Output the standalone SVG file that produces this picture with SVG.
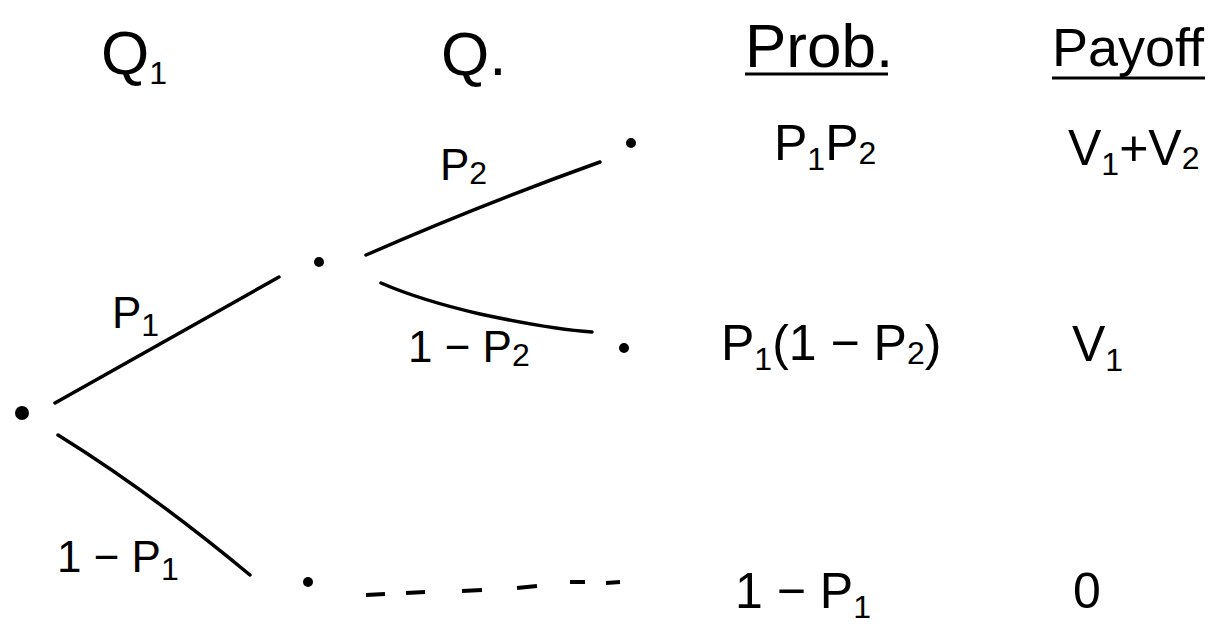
<svg xmlns="http://www.w3.org/2000/svg" width="1217" height="629" viewBox="0 0 1217 629">
<style>
text{font-family:"Liberation Sans","DejaVu Sans",sans-serif;fill:#000}
.h{font-size:62px}
.p{font-size:54px}
.t{font-size:50px}
.l{font-size:44px}
.s{font-size:32px}
.e{stroke:#000;stroke-width:3.5;fill:none;stroke-linecap:round}
.d{stroke:#000;stroke-width:4;fill:none;stroke-linecap:butt}
.u{stroke:#000;stroke-width:3;fill:none}
.n{fill:#000}
</style>
<rect width="1217" height="629" fill="#fff"/>
<g id="headers">
<text class="h" x="101" y="74">Q<tspan class="s" dy="10">1</tspan></text>
<text class="h" x="441" y="75">Q.</text>
<text class="h" x="745" y="67">Prob.</text>
<line class="u" x1="745" y1="74" x2="888" y2="74"/>
<text class="p" x="1052" y="66">Payoff</text>
<line class="u" x1="1052" y1="78" x2="1205" y2="78"/>
</g>
<g id="connectors">
<path class="e" d="M55 403 Q170 338 279 277"/>
<path class="e" d="M366 255 Q480 205 600 162"/>
<path class="e" d="M381 283 Q420 300 480 314 Q550 329 592 332"/>
<path class="e" d="M58 435 Q150 492 250 575"/>
<g class="d">
<line x1="366" y1="595" x2="385" y2="594"/>
<line x1="406" y1="593" x2="425" y2="592"/>
<line x1="462" y1="591" x2="482" y2="590"/>
<line x1="517" y1="588" x2="537" y2="586"/>
<line x1="570" y1="582" x2="585" y2="582"/>
<line x1="606" y1="583" x2="620" y2="582"/>
</g>
</g>
<g id="node-root"><circle class="n" cx="22" cy="413" r="7"/></g>
<g id="node-mid"><circle class="n" cx="319" cy="262" r="5"/></g>
<g id="node-leaf1"><circle class="n" cx="631" cy="143" r="5"/></g>
<g id="node-leaf2"><circle class="n" cx="624" cy="348" r="5"/></g>
<g id="node-leaf3"><circle class="n" cx="308" cy="582" r="5"/></g>
<g id="edge-labels">
<text class="l" x="112" y="328">P<tspan class="s" dy="8">1</tspan></text>
<text class="l" x="440" y="180">P<tspan class="s" dy="4">2</tspan></text>
<text class="l" x="408" y="362">1 − P<tspan class="s" dy="4">2</tspan></text>
<text class="l" x="57" y="572">1 − P<tspan class="s" dy="8">1</tspan></text>
</g>
<g id="outcomes">
<text class="t" x="774" y="160">P<tspan class="s" dy="10">1</tspan><tspan dy="-10">P</tspan><tspan class="s" dy="4">2</tspan></text>
<text class="t" x="1068" y="165">V<tspan class="s" dy="10">1</tspan><tspan dy="-10">+V</tspan><tspan class="s" dy="4">2</tspan></text>
<text class="t" x="721" y="360">P<tspan class="s" dy="10">1</tspan><tspan dy="-10">(1 − P</tspan><tspan class="s" dy="4">2</tspan><tspan dy="-4">)</tspan></text>
<text class="t" x="1072" y="361">V<tspan class="s" dy="10">1</tspan></text>
<text class="t" x="735" y="608">1 − P<tspan class="s" dy="10">1</tspan></text>
<text class="t" x="1073" y="608">0</text>
</g>
</svg>
